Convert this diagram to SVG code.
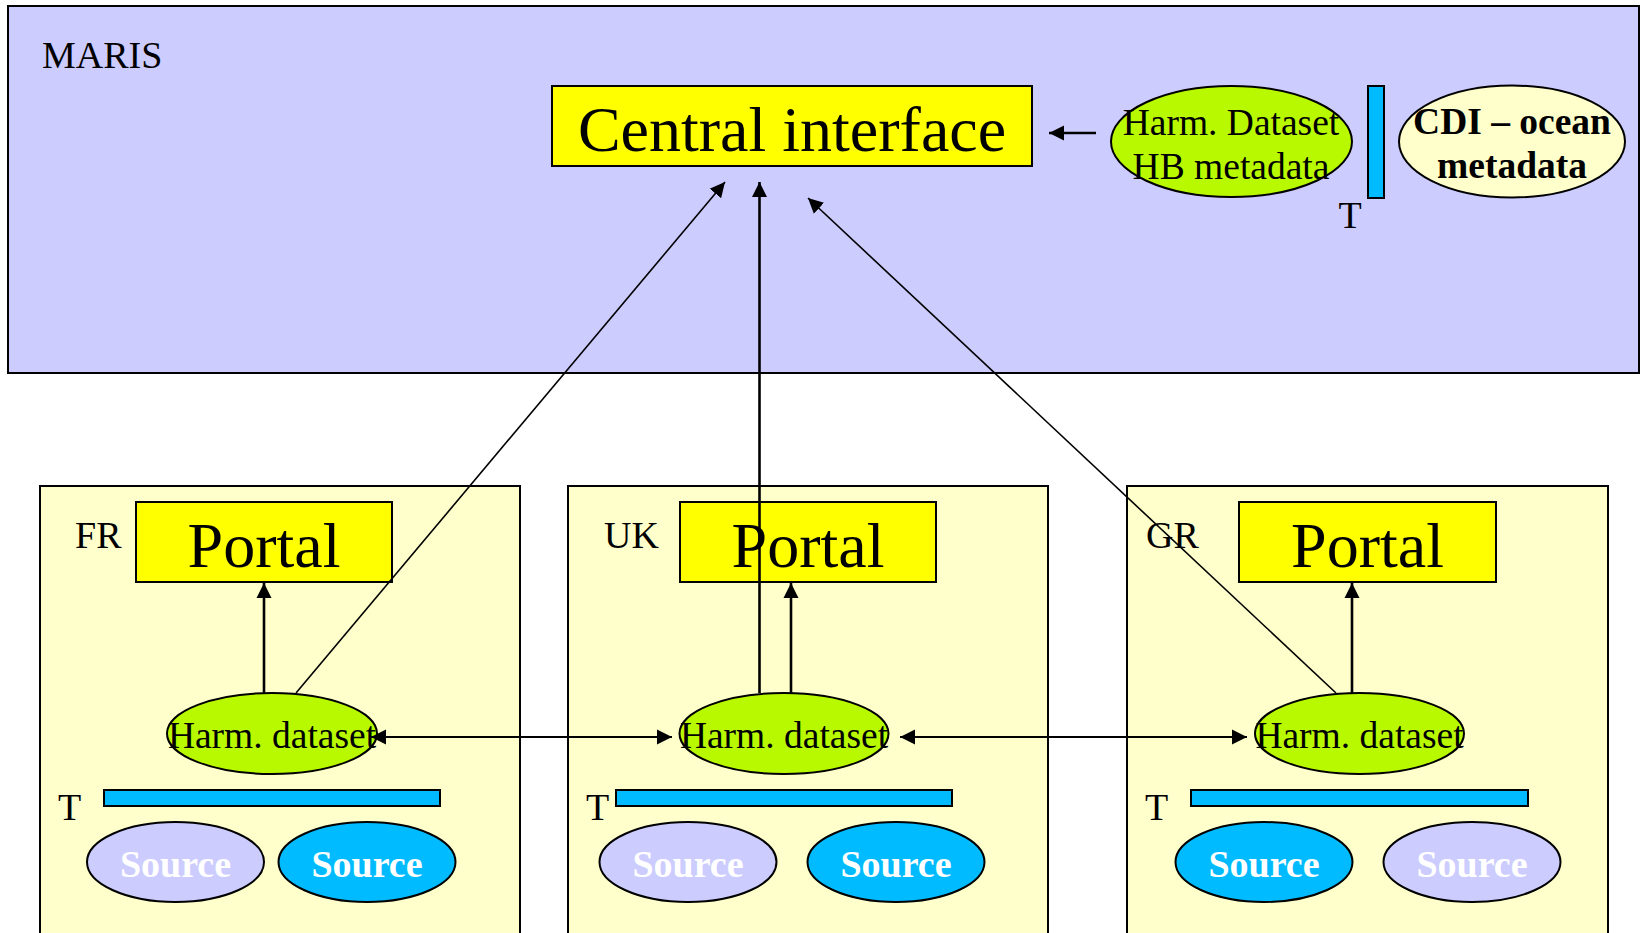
<svg xmlns="http://www.w3.org/2000/svg" width="1640" height="933" viewBox="0 0 1640 933">
<style>
  text { font-family: "Liberation Serif", "Times New Roman", serif; fill: #000; }
  .lbl { font-size: 38px; }
  .big { font-size: 64px; text-anchor: middle; }
  .mid { font-size: 37.5px; text-anchor: middle; }
  .bold { font-size: 37.5px; font-weight: bold; text-anchor: middle; }
  .src { font-size: 38px; font-weight: bold; text-anchor: middle; fill: #FFFFFF; }
  .country { fill: #FFFFCC; stroke: #000; stroke-width: 2; }
  .yellow { fill: #FFFF00; stroke: #000; stroke-width: 2; }
  .green { fill: #B9F900; stroke: #000; stroke-width: 2; }
  .tbar { fill: #00BBFF; stroke: #000; stroke-width: 2; }
  .lav { fill: #CCCCFF; stroke: #000; stroke-width: 2; }
  .blue { fill: #00BBFF; stroke: #000; stroke-width: 2; }
  .cream { fill: #FFFFCC; stroke: #000; stroke-width: 2; }
  .thick { stroke: #000; stroke-width: 2.6; fill: none; }
  .thin { stroke: #000; stroke-width: 1.6; fill: none; }
  .mid-w { stroke: #000; stroke-width: 2; fill: none; }
</style>
<defs>
  <marker id="ah" markerUnits="userSpaceOnUse" markerWidth="16" markerHeight="16" viewBox="0 0 16 16" refX="15" refY="8" orient="auto-start-reverse">
    <path d="M0,0.5 L15,8 L0,15.5 Z" fill="#000"/>
  </marker>
</defs>
<rect x="0" y="0" width="1640" height="933" fill="#FFFFFF"/>

<g id="maris">
  <rect x="8" y="6" width="1631" height="367" fill="#CCCCFF" stroke="#000" stroke-width="2"/>
  <text class="lbl" x="42" y="68">MARIS</text>
</g>

<g id="central-interface">
  <rect class="yellow" x="552" y="86" width="480" height="80"/>
  <text class="big" x="792" y="151">Central interface</text>
</g>

<g id="harm-dataset-hb">
  <ellipse class="green" cx="1231.5" cy="141.5" rx="120.5" ry="55.5"/>
  <text class="mid" x="1231" y="135">Harm. Dataset</text>
  <text class="mid" x="1231" y="179">HB metadata</text>
</g>

<g id="maris-t">
  <rect class="tbar" x="1368" y="86" width="16" height="112"/>
  <text class="lbl" x="1350" y="228" text-anchor="middle">T</text>
</g>

<g id="cdi">
  <ellipse class="cream" cx="1512" cy="141.5" rx="113" ry="56"/>
  <text class="bold" x="1512" y="134">CDI – ocean</text>
  <text class="bold" x="1512" y="178">metadata</text>
</g>

<!-- FR -->
<g id="fr">
  <rect class="country" x="40" y="486" width="480" height="460"/>
  <text class="lbl" x="75" y="548">FR</text>
  <g id="fr-portal">
    <rect class="yellow" x="136" y="502" width="256" height="80"/>
    <text class="big" x="264" y="567">Portal</text>
  </g>
  <g id="fr-harm">
    <ellipse class="green" cx="272" cy="733.5" rx="105" ry="40.5"/>
    <text class="mid" x="272" y="748">Harm. dataset</text>
  </g>
  <g id="fr-t">
    <rect class="tbar" x="104" y="790" width="336" height="16"/>
    <text class="lbl" x="58" y="820">T</text>
  </g>
  <g id="fr-source1">
    <ellipse class="lav" cx="175.5" cy="862" rx="88.5" ry="40"/>
    <text class="src" x="175.5" y="877">Source</text>
  </g>
  <g id="fr-source2">
    <ellipse class="blue" cx="367" cy="862" rx="88.5" ry="40"/>
    <text class="src" x="367" y="877">Source</text>
  </g>
</g>

<!-- UK -->
<g id="uk">
  <rect class="country" x="568" y="486" width="480" height="460"/>
  <text class="lbl" x="604" y="548">UK</text>
  <g id="uk-portal">
    <rect class="yellow" x="680" y="502" width="256" height="80"/>
    <text class="big" x="808" y="567">Portal</text>
  </g>
  <g id="uk-harm">
    <ellipse class="green" cx="784" cy="733.5" rx="104.5" ry="40.5"/>
    <text class="mid" x="784" y="748">Harm. dataset</text>
  </g>
  <g id="uk-t">
    <rect class="tbar" x="616" y="790" width="336" height="16"/>
    <text class="lbl" x="586" y="820">T</text>
  </g>
  <g id="uk-source1">
    <ellipse class="lav" cx="688" cy="862" rx="88.5" ry="40"/>
    <text class="src" x="688" y="877">Source</text>
  </g>
  <g id="uk-source2">
    <ellipse class="blue" cx="896" cy="862" rx="88.5" ry="40"/>
    <text class="src" x="896" y="877">Source</text>
  </g>
</g>

<!-- GR -->
<g id="gr">
  <rect class="country" x="1127" y="486" width="481" height="460"/>
  <text class="lbl" x="1146" y="548">GR</text>
  <g id="gr-portal">
    <rect class="yellow" x="1239" y="502" width="257" height="80"/>
    <text class="big" x="1367.5" y="567">Portal</text>
  </g>
  <g id="gr-harm">
    <ellipse class="green" cx="1359.5" cy="733.5" rx="104.5" ry="40.5"/>
    <text class="mid" x="1359.5" y="748">Harm. dataset</text>
  </g>
  <g id="gr-t">
    <rect class="tbar" x="1191" y="790" width="337" height="16"/>
    <text class="lbl" x="1145" y="820">T</text>
  </g>
  <g id="gr-source1">
    <ellipse class="blue" cx="1264" cy="862" rx="88.5" ry="40"/>
    <text class="src" x="1264" y="877">Source</text>
  </g>
  <g id="gr-source2">
    <ellipse class="lav" cx="1472" cy="862" rx="88.5" ry="40"/>
    <text class="src" x="1472" y="877">Source</text>
  </g>
</g>

<g id="connectors">
  <line class="thick" x1="1096" y1="133" x2="1049" y2="133" marker-end="url(#ah)"/>
  <line class="thick" x1="264" y1="693" x2="264" y2="583" marker-end="url(#ah)"/>
  <line class="thick" x1="791" y1="693" x2="791" y2="583" marker-end="url(#ah)"/>
  <line class="thick" x1="1352" y1="693" x2="1352" y2="583" marker-end="url(#ah)"/>
  <line class="thick" x1="759.5" y1="693" x2="759.5" y2="182" marker-end="url(#ah)"/>
  <line class="thin" x1="296" y1="693" x2="725" y2="182" marker-end="url(#ah)"/>
  <line class="thin" x1="1336" y1="693" x2="808" y2="198" marker-end="url(#ah)"/>
  <line class="mid-w" x1="371" y1="737" x2="672" y2="737" marker-start="url(#ah)" marker-end="url(#ah)"/>
  <line class="mid-w" x1="900" y1="737" x2="1247" y2="737" marker-start="url(#ah)" marker-end="url(#ah)"/>
</g>
</svg>
